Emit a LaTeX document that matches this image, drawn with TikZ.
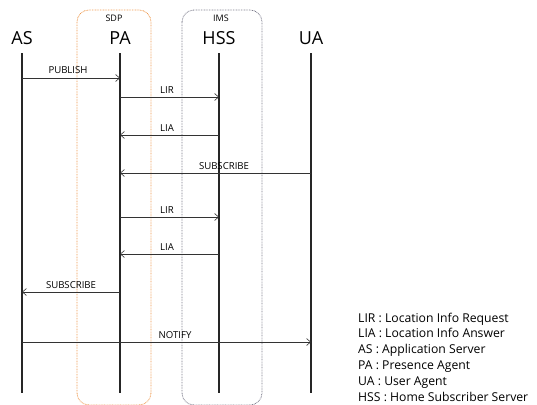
\documentclass[tikz,border=0pt]{standalone}
\usepackage{fontspec}
\setmainfont{Open Sans}
\usetikzlibrary{arrows.meta}
\definecolor{sdpc}{HTML}{EE9A50}
\definecolor{imsc}{HTML}{7C7C8C}
\begin{document}
\begin{tikzpicture}[x=1pt,y=-1pt,
  head/.style={font=\fontsize{18}{20}\selectfont, inner sep=0pt, anchor=base},
  grp/.style={font=\fontsize{9}{10}\selectfont, inner sep=0pt, anchor=base},
  life/.style={line width=1.3pt, black!85},
  msg/.style={line width=0.6pt, black!80, -{Straight Barb[length=4pt,width=7pt]}},
  mlab/.style={font=\fontsize{9.6}{11}\selectfont, inner sep=0pt, anchor=base},
  legend/.style={font=\fontsize{12.2}{16}\selectfont, inner sep=0pt, anchor=base west},
  box/.style={dash pattern=on 0.8pt off 0.8pt, line width=0.8pt, rounded corners=12pt}]
\useasboundingbox (0,0) rectangle (537,404);
\begin{scope}
\clip (0,0) rectangle (537,404);
\draw[box, sdpc] (77,10) rectangle (151,405);
\draw[box, imsc] (182,10) rectangle (262,405);
\end{scope}
\node[grp] (sdp) at (114,22) {SDP};
\node[grp] (ims) at (221,22) {IMS};
\node[head] (AS) at (22,45) {AS};
\node[head] (PA) at (120,45) {PA};
\node[head] (HSS) at (219,45) {HSS};
\node[head] (UA) at (311,45) {UA};
\coordinate (ASe) at (22,393);
\coordinate (PAe) at (120,393);
\coordinate (HSSe) at (219,393);
\coordinate (UAe) at (311,393);
\draw[life] (22,53) -- (ASe);
\draw[life] (120,53) -- (PAe);
\draw[life] (219,53) -- (HSSe);
\draw[life] (311,53) -- (UAe);
% messages
\coordinate (a1) at (22,78); \coordinate (p1) at (120,78);
\draw[msg] (a1) -- (p1);
\node[mlab] (m1) at (68,74) {PUBLISH};
\coordinate (p2) at (120,97); \coordinate (h2) at (219,97);
\draw[msg] (p2) -- (h2);
\node[mlab] (m2) at (167,93) {LIR};
\coordinate (h3) at (219,135); \coordinate (p3) at (120,135);
\draw[msg] (h3) -- (p3);
\node[mlab] (m3) at (167,131) {LIA};
\coordinate (u4) at (311,173); \coordinate (p4) at (120,173);
\draw[msg] (u4) -- (p4);
\node[mlab] (m4) at (224,169) {SUBSCRIBE};
\coordinate (p5) at (120,217); \coordinate (h5) at (219,217);
\draw[msg] (p5) -- (h5);
\node[mlab] (m5) at (167,213) {LIR};
\coordinate (h6) at (219,254); \coordinate (p6) at (120,254);
\draw[msg] (h6) -- (p6);
\node[mlab] (m6) at (167,250) {LIA};
\coordinate (p7) at (120,292); \coordinate (a7) at (22,292);
\draw[msg] (p7) -- (a7);
\node[mlab] (m7) at (71,288) {SUBSCRIBE};
\coordinate (a8) at (22,342); \coordinate (u8) at (311,342);
\draw[msg] (a8) -- (u8);
\node[mlab] (m8) at (175,338) {NOTIFY};
\node[legend] (l1) at (358,322) {LIR : Location Info Request};
\node[legend] (l2) at (358,337.8) {LIA : Location Info Answer};
\node[legend] (l3) at (358,353.6) {AS : Application Server};
\node[legend] (l4) at (358,369.4) {PA : Presence Agent};
\node[legend] (l5) at (358,385.2) {UA : User Agent};
\node[legend] (l6) at (358,401) {HSS : Home Subscriber Server};
\end{tikzpicture}
\end{document}
